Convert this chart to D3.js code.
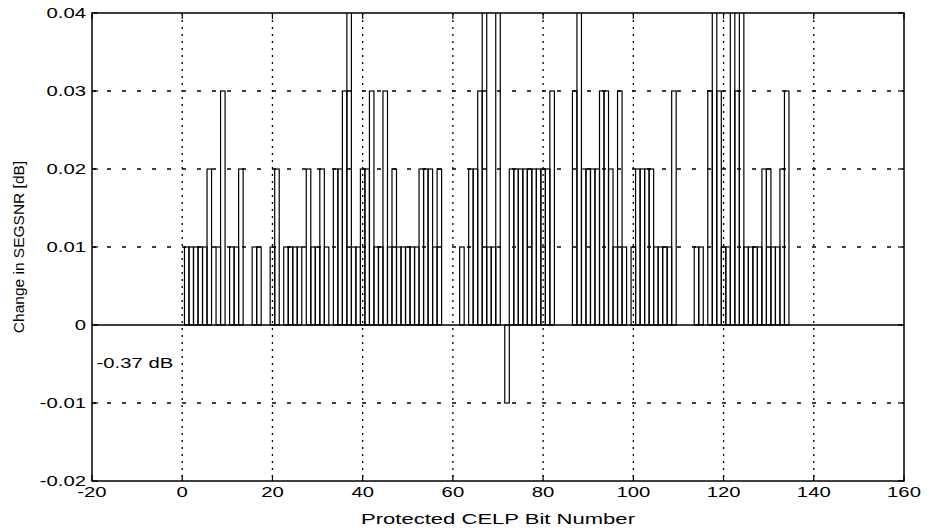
<!DOCTYPE html>
<html><head><meta charset="utf-8">
<script src="https://cdn.jsdelivr.net/npm/d3@7/dist/d3.min.js"></script>
<style>body{margin:0;background:#fff} svg{display:block}</style>
</head><body><svg id="c" width="929" height="531"></svg>
<script>
// Change in SEGSNR per protected bit (bits 1..134); bars above 0.04 are clipped by the axes
const bitNumbers = d3.range(1, 135);
const segsnrChange = [
  0.01,0.01,0.01,0.01,0.01,0.02,0,0.01,0.03,0,
  0.01,0.01,0.02,0,0,0.01,0.01,0,0,0.01,
  0.02,0,0.01,0.01,0.01,0.01,0,0.02,0.01,0.01,
  0.02,0.01,0,0.02,0.02,0.03,0.05,0.01,0.01,0.02,
  0.02,0.03,0.01,0.01,0.03,0.01,0.02,0.01,0.01,0.01,
  0.01,0.01,0.02,0.02,0.02,0.01,0.02,0,0,0,
  0,0.01,0,0.02,0.02,0.03,0.05,0.01,0.01,0.05,
  0,-0.01,0.02,0.02,0.02,0.02,0.02,0.02,0.02,0.02,
  0.02,0.03,0,0,0,0,0.03,0.05,0.02,0.02,
  0.02,0.02,0.03,0.03,0.02,0.01,0.03,0.01,0,0.01,
  0.02,0.02,0.02,0.02,0.01,0.01,0.01,0.01,0.03,0,
  0,0,0,0.01,0.01,0,0.03,0.05,0.03,0.01,
  0.01,0.05,0.03,0.05,0.01,0.01,0.01,0.01,0.02,0.02,
  0.01,0.01,0.02,0.03
];
const xTicks = [-20, 0, 20, 40, 60, 80, 100, 120, 140, 160];
const yTicks = [-0.02, -0.01, 0, 0.01, 0.02, 0.03, 0.04];
const yTickLabels = ["-0.02", "-0.01", "0", "0.01", "0.02", "0.03", "0.04"];
const xLabel = "Protected CELP Bit Number";
const yLabel = "Change in SEGSNR [dB]";
const noteText = "-0.37 dB";
const noteAt = [-19, -0.0055];

const svg = d3.select("#c");
const L = 92, R = 904, T = 13, B = 481;
const x = d3.scaleLinear().domain([-20, 160]).range([L, R]);
const y = d3.scaleLinear().domain([-0.02, 0.04]).range([B, T]);
const font = "'Liberation Sans', Arial, Helvetica, sans-serif";

svg.append("rect").attr("width", 929).attr("height", 531).attr("fill", "#fff");
svg.append("defs").append("clipPath").attr("id", "clip")
  .append("rect").attr("x", L).attr("y", T).attr("width", R - L).attr("height", B - T);

// grid
const g = svg.append("g");
g.selectAll(".hg").data(yTicks.filter(v => v !== 0 && v !== -0.02 && v !== 0.04)).join("line")
  .attr("x1", L).attr("x2", R).attr("y1", d => y(d)).attr("y2", d => y(d))
  .attr("stroke", "#000").attr("stroke-width", 1.3).attr("stroke-dasharray", "4,11");
g.selectAll(".vg").data(xTicks.filter(v => v !== -20 && v !== 160)).join("line")
  .attr("y1", T).attr("y2", B).attr("x1", d => x(d)).attr("x2", d => x(d))
  .attr("stroke", "#000").attr("stroke-width", 1.3).attr("stroke-dasharray", "2,5");

// bars
const bars = svg.append("g").attr("clip-path", "url(#clip)");
const data = bitNumbers.map((b, i) => ({b, v: segsnrChange[i]})).filter(d => d.v !== 0);
bars.selectAll("rect").data(data).join("rect")
  .attr("x", d => x(d.b - 0.5))
  .attr("width", d => x(d.b + 0.5) - x(d.b - 0.5))
  .attr("y", d => Math.min(y(d.v), y(0)))
  .attr("height", d => Math.abs(y(d.v) - y(0)))
  .attr("fill", "none").attr("stroke", "#000").attr("stroke-width", 1.2);

// zero line
svg.append("line").attr("x1", L).attr("x2", R).attr("y1", y(0)).attr("y2", y(0))
  .attr("stroke", "#000").attr("stroke-width", 1.5);

// axes box
svg.append("rect").attr("x", L).attr("y", T).attr("width", R - L).attr("height", B - T)
  .attr("fill", "none").attr("stroke", "#000").attr("stroke-width", 1.5);

// ticks
const tk = svg.append("g").attr("stroke", "#000").attr("stroke-width", 1.2);
yTicks.forEach(v => {
  tk.append("line").attr("x1", L).attr("x2", L + 6).attr("y1", y(v)).attr("y2", y(v));
  tk.append("line").attr("x1", R).attr("x2", R - 6).attr("y1", y(v)).attr("y2", y(v));
});
xTicks.forEach(v => {
  tk.append("line").attr("y1", B).attr("y2", B - 6).attr("x1", x(v)).attr("x2", x(v));
  tk.append("line").attr("y1", T).attr("y2", T + 6).attr("x1", x(v)).attr("x2", x(v));
});

const SX = 1.45;
// y tick labels
svg.append("g").selectAll("text").data(yTicks).join("text")
  .attr("transform", d => `translate(${L - 6},${y(d) + 5}) scale(${SX},1)`)
  .attr("text-anchor", "end").attr("font-family", font).attr("font-size", 14)
  .text((d, i) => yTickLabels[i]);
// x tick labels
svg.append("g").selectAll("text").data(xTicks).join("text")
  .attr("transform", d => `translate(${x(d)},${B + 16}) scale(${SX},1)`)
  .attr("text-anchor", "middle").attr("font-family", font).attr("font-size", 14)
  .text(d => d);
// axis titles
svg.append("text").attr("transform", `translate(${(L + R) / 2},${B + 43}) scale(1.47,1)`)
  .attr("text-anchor", "middle").attr("font-family", font).attr("font-size", 15).text(xLabel);
svg.append("text").attr("transform", `translate(24,${(T + B) / 2}) rotate(-90)`)
  .attr("text-anchor", "middle").attr("font-family", font).attr("font-size", 15.5).text(yLabel);
// annotation
svg.append("text").attr("transform", `translate(${x(noteAt[0])},${y(noteAt[1])}) scale(${SX},1)`)
  .attr("font-family", font).attr("font-size", 14).text(noteText);
</script></body></html>
